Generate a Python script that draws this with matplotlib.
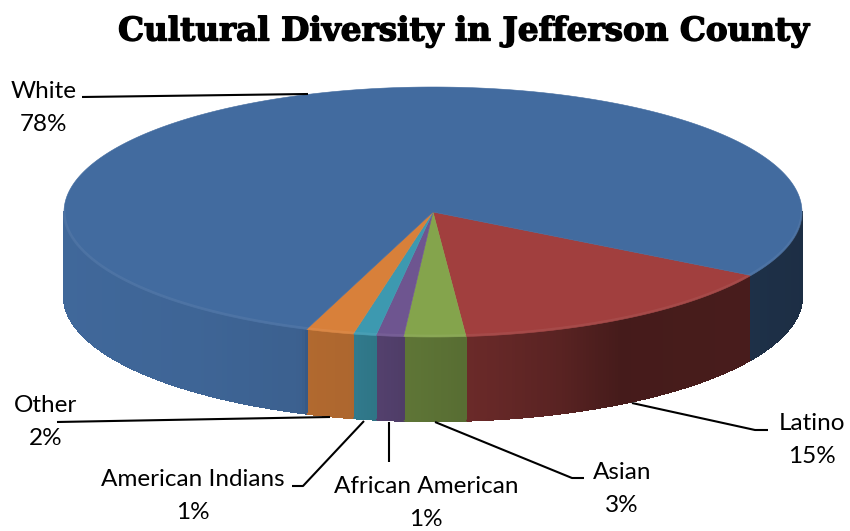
import numpy as np
import matplotlib
matplotlib.use("Agg")
import matplotlib.pyplot as plt
import matplotlib.patheffects as pe
from matplotlib.collections import PolyCollection, LineCollection

# ---- data ----
categories = ["Latino", "Asian", "African American", "American Indians", "Other", "White"]
shares = [15.1, 2.7, 1.2, 1.0, 2.1, 77.9]
top_colors = ["#a13f3e", "#84a44c", "#6e5590", "#3d99b0", "#d8803a", "#426b9f"]

# ---- layout (pixel space) ----
W, H = 850, 531
CX, CY, A, B, DEPTH = 433, 212, 369, 125, 84
START = 30.5  # degrees below horizontal, clockwise

fig = plt.figure(figsize=(W / 100, H / 100), dpi=100, facecolor="white")
ax = fig.add_axes([0, 0, 1, 1])
ax.set_xlim(0, W)
ax.set_ylim(H, 0)
ax.axis("off")

def to_rgb(c):
    return np.array(matplotlib.colors.to_rgb(c))

def pt(deg):
    r = np.radians(deg)
    return CX + A * np.cos(r), CY + B * np.sin(r)

shade_x = [64, 200, 300, 306, 353, 400, 470, 560, 620, 751, 802]
shade_f = [.97, .94, .90, .82, .80, .72, .66, .55, .43, .45, .43]

bounds = []
angle = START
for share, col in zip(shares, top_colors):
    sweep = share / sum(shares) * 360
    bounds.append((angle, angle + sweep, col))
    angle += sweep

polys, cols, rim, rim_cols = [], [], [], []
for a0, a1, col in bounds:
    for shift in (0, 360):
        s, e = max(a0, shift), min(a1, 180 + shift)
        if e <= s:
            continue
        steps = np.linspace(s, e, max(2, int((e - s) * 2) + 1))
        for u, v in zip(steps[:-1], steps[1:]):
            x0, y0 = pt(u)
            x1, y1 = pt(v)
            polys.append([(x0, y0), (x1, y1), (x1, y1 + DEPTH), (x0, y0 + DEPTH)])
            c = to_rgb(col) * np.interp((x0 + x1) / 2, shade_x, shade_f)
            cols.append(c)
            rim.append([(x0, y0 + DEPTH), (x1, y1 + DEPTH)])
            rim_cols.append(c)
ax.add_collection(PolyCollection(polys, facecolors=cols, edgecolors=cols, linewidths=1.0,
                                 antialiaseds=False, zorder=2))
ax.add_collection(LineCollection(rim, colors=rim_cols, linewidths=1.0, zorder=2.5))

# top face
for a0, a1, col in bounds:
    t = np.linspace(a0, a1, max(2, int(a1 - a0) * 2 + 2))
    xs, ys = pt(t)
    ax.fill(np.r_[CX, xs], np.r_[CY, ys], facecolor=col, edgecolor=col, linewidth=0.4, zorder=3)

# soft highlight along the front rim
t = np.linspace(0, 180, 200)
rx, ry = pt(t)
ax.plot(rx, ry - 1, color="white", alpha=0.06, lw=2, zorder=3.5)

# leader lines
leaders = [
    [(82, 97), (308, 94)],
    [(57, 422), (330, 417)],
    [(292, 486), (303, 486), (364, 421)],
    [(389, 422), (389, 462)],
    [(584, 478), (572, 478), (435, 422)],
    [(768, 430), (755, 430), (632, 403)],
]
for line in leaders:
    xs, ys = zip(*line)
    ax.plot(xs, ys, color="black", lw=1.5, solid_capstyle="butt", zorder=4)

# labels
label_pos = {
    "White": (44, 108),
    "Latino": (812, 440),
    "Asian": (622, 489),
    "African American": (426, 503),
    "American Indians": (193, 496),
    "Other": (46, 422),
}
for name, share in zip(categories, shares):
    x, y = label_pos[name]
    ax.text(x, y, f"{name}\n{round(share)}%", ha="center", va="center", ma="center",
            fontsize=17.5, family="Lato", color="black", linespacing=1.7, zorder=5)

ax.text(464, 31, "Cultural Diversity in Jefferson County", ha="center", va="center",
        family="DejaVu Serif", fontweight="bold", fontsize=23.5, color="black",
        path_effects=[pe.withStroke(linewidth=1.0, foreground="black")])

fig.savefig("out.png", dpi=100)
